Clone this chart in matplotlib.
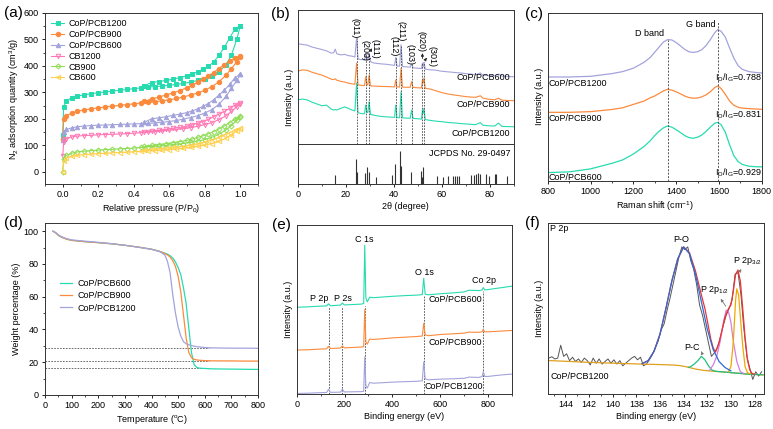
import numpy as np
import matplotlib
matplotlib.use('Agg')
import matplotlib.pyplot as plt
from matplotlib.ticker import MultipleLocator

plt.rcParams['font.family'] = ['Liberation Sans', 'DejaVu Sans']
plt.rcParams['mathtext.fontset'] = 'custom'
plt.rcParams['mathtext.rm'] = 'Liberation Sans'
plt.rcParams['mathtext.it'] = 'Liberation Sans:italic'
plt.rcParams['mathtext.default'] = 'regular'
plt.rcParams['font.size'] = 6.5
plt.rcParams['axes.linewidth'] = 0.7
plt.rcParams['axes.edgecolor'] = '#333333'
for a in ['xtick', 'ytick']:
    plt.rcParams[a + '.major.size'] = 2.5
    plt.rcParams[a + '.minor.size'] = 1.5
    plt.rcParams[a + '.major.width'] = 0.6
    plt.rcParams[a + '.minor.width'] = 0.5
    plt.rcParams[a + '.major.pad'] = 2
    plt.rcParams[a + '.labelsize'] = 6.5

TEAL = '#27dbb0'
ORANGE = '#fb8a3c'
LAV = '#a3a3dc'
PINK = '#ff78b4'
LGREEN = '#8fdd55'
YELLOW = '#ffd04d'

# ---------- (a) N2 isotherms ----------
p_ads = [0.0, 0.005, 0.02, 0.05, 0.08, 0.12, 0.16, 0.2, 0.24, 0.28, 0.32, 0.36, 0.4, 0.44, 0.48,
         0.52, 0.56, 0.6, 0.64, 0.68, 0.72, 0.76, 0.8, 0.84, 0.88, 0.92, 0.95, 0.98, 1.0]
p_des = [1.0, 0.97, 0.94, 0.91, 0.88, 0.85, 0.82, 0.79, 0.76, 0.73, 0.7, 0.66, 0.62, 0.58, 0.54, 0.5, 0.46]

ads_cop1200 = [140, 245, 268, 280, 286, 291, 295, 299, 302, 305, 308, 311, 314, 317, 320, 322, 324, 327,
               330, 334, 339, 345, 352, 362, 378, 405, 440, 500, 550]
des_cop1200 = [552, 540, 505, 470, 440, 415, 398, 387, 378, 370, 363, 356, 350, 345, 341, 337, 326]
ads_cop900 = [125, 198, 212, 222, 228, 234, 238, 242, 245, 248, 251, 254, 257, 260, 262, 265, 268, 272,
              277, 283, 290, 298, 308, 322, 340, 365, 390, 415, 435]
des_cop900 = [438, 430, 418, 405, 390, 375, 362, 350, 338, 328, 318, 307, 298, 290, 282, 275, 266]
ads_cop600 = [120, 150, 160, 166, 170, 173, 175, 176, 177, 178, 179, 180, 181, 182, 183, 185, 187, 190,
              194, 199, 205, 212, 222, 235, 255, 285, 315, 345, 368]
des_cop600 = [370, 355, 330, 308, 290, 272, 258, 247, 238, 230, 224, 218, 213, 208, 204, 200, 188]
ads_cb1200 = [60, 112, 125, 132, 135, 137, 138, 140, 141, 142, 143, 144, 146, 148, 150, 152, 154, 157,
              160, 163, 167, 172, 178, 186, 197, 212, 228, 245, 258]
des_cb1200 = [260, 252, 240, 228, 218, 208, 198, 190, 184, 178, 173, 168, 164, 160, 157, 154, 150]
ads_cb900 = [0, 50, 62, 70, 75, 78, 80, 82, 84, 85, 87, 88, 90, 92, 94, 96, 98, 101, 104, 107, 111, 116,
             122, 130, 142, 158, 175, 195, 208]
des_cb900 = [210, 200, 186, 173, 162, 152, 143, 136, 130, 124, 119, 114, 110, 106, 103, 100, 96]
ads_cb600 = [0, 40, 52, 58, 62, 65, 67, 69, 70, 72, 73, 74, 76, 77, 79, 80, 82, 84, 86, 89, 92, 96, 101,
             107, 115, 127, 140, 155, 163]
des_cb600 = [165, 158, 148, 138, 130, 122, 116, 110, 106, 102, 98, 95, 92, 89, 87, 85, 82]

iso_names = ['CoP/PCB1200', 'CoP/PCB900', 'CoP/PCB600', 'CB1200', 'CB900', 'CB600']

# ---------- (b) XRD ----------
two_theta = [0.5, 2, 4, 6, 8, 10, 12, 14, 15, 15.6, 16.3, 18, 19.5, 21, 22.5, 23.8, 24.5, 25.1, 26, 27,
             27.8, 28.3, 28.8, 29.2, 29.7, 30.3, 31.5, 33, 35, 37, 39, 40.3, 40.8, 41.3, 42.4, 43.0, 43.6,
             45, 46.8, 47.4, 48, 50, 51.5, 51.9, 52.2, 52.5, 53.1, 55, 57, 60, 63, 66, 68, 70, 72, 74, 76,
             77, 79, 82, 83.5, 85, 87, 90]
xrd_600 = [80.5, 80.2, 79.8, 78.7, 78, 77.3, 76.5, 75.2, 75.5, 77.5, 74.8, 74.2, 74.5, 73.8, 73.5, 73, 84,
           72, 71.5, 71.5, 71.3, 75, 71.5, 71.3, 75, 70.3, 69.6, 69.3, 69, 68.8, 68.4, 68.2, 72.8, 67.8,
           67.7, 80, 67.5, 67.4, 67.1, 69, 66.8, 66.5, 66.4, 69.5, 67.3, 70, 66, 65.6, 65.5, 64.8, 64.4,
           64, 63.8, 63.4, 63.2, 62.8, 63.8, 62.6, 62.3, 62.1, 63.2, 62, 61.9, 61.6]
xrd_900 = [65, 65.6, 65.3, 64.2, 63.4, 62.6, 61.5, 60.2, 60, 60.5, 59.6, 59, 58.6, 58, 57.6, 57.3, 69.5,
           57, 56.8, 56.6, 56.6, 61.7, 57, 57, 62.5, 56.4, 56.3, 56.2, 56.1, 56, 55.9, 55.8, 59.8, 55.8,
           55.7, 66.5, 55.7, 55.6, 55.6, 58.8, 55.5, 55.3, 55.2, 59.5, 58, 60.8, 55, 54.6, 53.8, 52.5,
           51.6, 51, 50.6, 50.2, 50, 49.8, 50.7, 49.4, 48.8, 48.4, 49.3, 48.2, 48, 47.9]
xrd_1200 = [48.5, 48.8, 48.3, 47, 46, 45, 45.3, 43, 42.5, 42.8, 42.6, 43.5, 44.3, 43.5, 42.6, 42, 58, 41,
            40.6, 40.4, 40.4, 45.4, 41, 41.2, 47.3, 40, 39.6, 39.2, 38.8, 38.6, 38.4, 38.3, 45.4, 38.2,
            38.1, 53, 38, 37.9, 37.8, 42.5, 37.7, 37.5, 37.3, 42.5, 40.5, 43.4, 37, 36.6, 36.2, 35.8,
            35.3, 35, 34.7, 34.5, 34.3, 34.1, 35.3, 33.8, 33.5, 33.3, 35, 33.1, 33, 32.9]
hkl = ['(011)', '(200)', '(111)', '(112)', '(211)', '(103)', '(020)', '(301)']
hkl_2theta = [24.5, 28.3, 29.7, 40.8, 43.0, 47.4, 51.9, 52.5]
hkl_top = [84, 75, 75, 72.8, 80, 69, 69.5, 70]
ref_2theta = [15.4, 24.1, 24.7, 28.1, 29.0, 29.6, 32.4, 39.2, 40.3, 42.5, 42.9, 47.0, 51.3, 51.7, 52.3,
              57.8, 60.3, 62.5, 64.7, 65.5, 66.4, 67.3, 72.0, 73.4, 74.3, 75.1, 75.9, 78.2, 79.6, 82.1,
              82.5, 87.2]
ref_int = [5.2, 14.2, 6.7, 6.5, 10, 6.7, 4.2, 5.2, 11.5, 19, 10.3, 6.7, 7.6, 4.2, 9.6, 4.6, 4.2, 4.8,
           4.6, 4.8, 4.6, 4.6, 5.2, 5.2, 5.6, 6.5, 5.6, 5.6, 4.6, 5.6, 5.6, 4.6]

# ---------- (c) Raman ----------
raman_x = [800, 900, 1000, 1100, 1150, 1200, 1250, 1280, 1300, 1320, 1340, 1360, 1380, 1400, 1420, 1440,
           1460, 1480, 1500, 1520, 1540, 1560, 1580, 1595, 1610, 1630, 1650, 1670, 1690, 1710, 1740, 1770,
           1800]
raman_top = [61.8, 61.8, 62.2, 63.8, 65, 67, 70.5, 73.5, 76.5, 79.5, 82.5, 84, 83.8, 82.3, 80.3, 78.2,
             76.8, 76.4, 76.8, 78, 80.5, 84, 88, 90, 89, 85.5, 79, 73, 68.5, 66.3, 65, 64.5, 64.2]
raman_mid = [40.8, 40.8, 41.2, 42.5, 43.5, 45.5, 47.5, 49.5, 50.5, 52, 53.5, 54.5, 54, 53, 51.8, 50.5,
             49.6, 49.2, 49.3, 50, 51.2, 53, 55.5, 56.5, 55, 51.5, 47.5, 45, 43.8, 43.3, 43, 42.8, 42.6]
raman_bot = [5, 5.4, 7.2, 10.5, 12.5, 16, 20.5, 24, 27, 29.5, 31.5, 32.7, 32, 30.5, 28.8, 27, 25.8, 25.4,
             26, 27.3, 29.5, 32, 34.3, 34.8, 33.5, 29, 21.5, 15, 11.5, 9.8, 8.8, 8.5, 8.4]
raman_names = ['CoP/PCB1200', 'CoP/PCB900', 'CoP/PCB600']
id_ig = ['0.788', '0.831', '0.929']

# ---------- (d) TGA ----------
temp = [30, 40, 50, 60, 80, 100, 150, 200, 250, 300, 350, 400, 430, 450, 460, 470, 480, 490, 500, 510,
        520, 530, 540, 550, 560, 570, 580, 600, 620, 650, 700, 750, 800]
tga_600 = [100, 99, 97.5, 96.5, 95.2, 94.4, 93.6, 93, 92.3, 91.4, 90.3, 89, 87.7, 86.6, 86, 85, 83.6,
           81.2, 77.8, 73.5, 65.5, 56, 41, 26, 18.5, 16.8, 16.4, 16.2, 16, 15.9, 15.8, 15.7, 15.6]
tga_900 = [100, 99, 97.5, 96.5, 95.2, 94.4, 93.6, 93, 92.3, 91.4, 90.3, 89, 87.7, 86.4, 85.5, 84.2, 82,
           78.5, 72.5, 63, 49, 35, 26, 22.8, 21.8, 21.4, 21.2, 21, 20.9, 20.8, 20.8, 20.7, 20.7]
tga_1200 = [100, 99.2, 97.8, 96.8, 95.5, 94.7, 93.9, 93.2, 92.4, 91.4, 90.2, 88.9, 87.6, 85.5, 81.5,
            74.5, 61, 50, 41.5, 36, 32.6, 31.3, 30.7, 30.2, 29.8, 29.5, 29.3, 29, 28.8, 28.7, 28.6, 28.6,
            28.5]
residue = [28.7, 21.0, 16.4]

# ---------- (e) XPS survey ----------
be_survey = [0, 50, 100, 125, 133, 141, 150, 183, 191, 199, 230, 270, 280, 284.5, 289, 295, 305, 320, 350,
             400, 450, 500, 525, 531, 537, 550, 600, 650, 700, 720, 760, 775, 780, 786, 800, 850, 900]
xps_600 = [51.3, 51.6, 52, 52.1, 53.4, 52.2, 52.3, 52.6, 53.8, 52.7, 52.9, 53.2, 53.5, 88, 57, 54.5, 57.3,
           57, 57.3, 57.8, 58.2, 58.5, 58.8, 68.5, 59, 58.7, 59.3, 59.8, 60.4, 61.4, 61.2, 61.5, 63, 61.6,
           61.8, 62.8, 63.8]
xps_900 = [26, 26.2, 26.6, 26.7, 28.2, 26.9, 27, 27.2, 28.4, 27.3, 27.5, 27.8, 28, 50, 31, 29.5, 32.5,
           32.3, 32.6, 33.2, 33.6, 34, 34.3, 41.8, 35, 34.5, 35.2, 35.6, 36, 36.6, 36.5, 36.8, 38.2, 36.8,
           36.8, 37.2, 37.6]
xps_1200 = [0.3, 0.5, 0.8, 0.9, 2.8, 1, 1, 1.1, 2.8, 1.2, 1.3, 1.4, 1.6, 22, 5, 3.5, 6.8, 6.4, 6.6, 7,
            7.3, 7.5, 7.8, 19, 9, 8.4, 8.8, 9, 9.3, 10, 9.8, 10.3, 13.2, 10.4, 10.4, 11.2, 11.8]
xps_lines = [133, 191, 284.5, 531, 780]
xps_line_top = [51.5, 51.5, 52, 58.5, 61]

# ---------- (f) P 2p ----------
be_raw = [145.4, 145.15, 144.9, 144.65, 144.4, 144.15, 143.9, 143.65, 143.4, 143.15, 142.9, 142.65,
          142.4, 142.15, 141.9, 141.65, 141.4, 141.15, 140.9, 140.65, 140.4, 140.15, 139.9, 139.65,
          139.4, 139.15, 138.9, 138.65, 138.4, 138.15, 137.9, 137.65, 137.4, 137.15, 136.9, 136.65,
          136.4, 136.15, 135.9, 135.65, 135.4, 135.15, 134.9, 134.65, 134.4, 134.15, 133.9, 133.65,
          133.4, 133.15, 132.9, 132.65, 132.4, 132.15, 131.9, 131.65, 131.4, 131.15, 130.9, 130.65,
          130.4, 130.15, 129.9, 129.65, 129.4, 129.15, 128.9, 128.65, 128.4, 128.15, 127.9, 127.65,
          127.4]
raw_int = [21, 21.8, 20.5, 21, 28.5, 22, 23.5, 19.5, 21.5, 19, 20.5, 18.5, 21, 19.5, 17, 21, 18, 20.5,
           17.5, 19, 20.5, 18, 20, 17.5, 19.5, 16.5, 18, 19.5, 21, 22, 20, 21.5, 16.5, 17.5, 20, 23, 27,
           31, 37.5, 41, 49, 56, 64, 72, 80, 86, 84.5, 86, 78, 73, 64, 52, 46, 38, 30, 22, 24, 27, 33, 40,
           46, 50, 55, 70, 71, 58, 38, 22, 15, 8.5, 13, 10.5, 13]
be_env = [137.5, 137, 136.5, 136, 135.5, 135, 134.5, 134, 133.5, 133, 132.5, 132.2, 132, 131.7, 131.5,
          131.3, 131, 130.5, 130.2, 130, 129.8, 129.6, 129.4, 129.2, 129, 128.8, 128.6, 128.4, 128.2, 128]
env_int = [17.8, 19.5, 25, 35, 50, 66, 79, 86, 82.5, 72, 58, 50, 43, 32, 27, 24.5, 30, 45, 50, 52, 60,
           70, 72.5, 66, 50, 33, 20, 14, 12, 11.5]
be_po = [137.5, 137, 136.5, 136, 135.5, 135, 134.5, 134, 133.5, 133, 132.5, 132, 131.5, 131, 130.5, 130]
po_int = [17.8, 19.5, 25, 35, 50, 66, 79, 86, 82, 70, 54, 38, 26, 19, 15.5, 13.5]
be_pc = [133.6, 133.4, 133.1, 132.8, 132.5, 132.2, 131.9, 131.6, 131.3, 130.5, 129.5, 128.5, 127.3]
pc_int = [15.6, 16, 17.5, 19.5, 22, 20, 16.5, 14, 13.3, 12.8, 12.2, 11.6, 11.2]
be_p12 = [131.8, 131.5, 131.2, 130.9, 130.6, 130.4, 130.2, 130, 129.8, 129.5, 129.2, 128.9]
p12_int = [14, 17, 22, 31, 43, 49, 48, 42, 31, 19, 13, 12]
be_p32 = [130.2, 130, 129.8, 129.6, 129.5, 129.35, 129.2, 129, 128.8, 128.6, 128.4]
p32_int = [13, 16, 30, 55, 61.5, 58, 45, 28, 16, 12.5, 11.8]
be_bg = [145.5, 142, 139, 136, 135, 134.3, 133.7, 133, 132.3, 131.5, 130.5, 129.5, 128.5, 127.2]
bg_int = [19.6, 18.5, 17.8, 17.2, 17, 16.6, 15.8, 14.6, 13.8, 13.3, 12.8, 12.2, 11.6, 11.2]

W, H = 773, 429
fig = plt.figure(figsize=(W / 100, H / 100), dpi=100)


def add_ax(l, t, r, b):
    return fig.add_axes([l / W, 1 - b / H, (r - l) / W, (b - t) / H])


def no_y(ax):
    ax.set_yticks([])
    ax.set_ylabel('Intensity (a.u.)', labelpad=3)


ax_a = add_ax(45, 13, 258, 184)
ax_b = add_ax(297.7, 10, 514, 184)
ax_c = add_ax(547.7, 12.7, 761.7, 181)
ax_d = add_ax(45, 223, 258, 395)
ax_e = add_ax(296.7, 225, 512, 394)
ax_f = add_ax(547.7, 223, 764, 394)

# (a)
iso_ads = [ads_cop1200, ads_cop900, ads_cop600, ads_cb1200, ads_cb900, ads_cb600]
iso_des = [des_cop1200, des_cop900, des_cop600, des_cb1200, des_cb900, des_cb600]
iso_colors = [TEAL, ORANGE, LAV, PINK, LGREEN, YELLOW]
iso_markers = ['s', 'o', '^', 'v', 'D', '<']
for i in range(6):
    x = p_ads + p_des
    y = iso_ads[i] + iso_des[i]
    filled = i < 3
    ax_a.plot(x, y, color=iso_colors[i], lw=0.8, marker=iso_markers[i],
              ms=3.2 if iso_markers[i] != 'D' else 2.6, mew=0.7,
              mfc=iso_colors[i] if filled else 'none', mec=iso_colors[i], label=iso_names[i])
ax_a.set_xlim(-0.1, 1.1)
ax_a.set_ylim(-46, 600)
ax_a.xaxis.set_major_locator(MultipleLocator(0.2))
ax_a.xaxis.set_minor_locator(MultipleLocator(0.1))
ax_a.yaxis.set_major_locator(MultipleLocator(100))
ax_a.yaxis.set_minor_locator(MultipleLocator(50))
ax_a.xaxis.set_major_formatter(plt.FuncFormatter(lambda v, p: '%.1f' % v))
ax_a.set_xlabel('Relative pressure (P/P$_0$)', labelpad=2)
ax_a.set_ylabel('N$_2$ adsorption quantity (cm$^3$/g)', labelpad=2)
ax_a.legend(loc='upper left', bbox_to_anchor=(0.0, 1.0), frameon=False, fontsize=6.5,
            handlelength=1.4, labelspacing=0.2, handletextpad=0.5, borderaxespad=0.3)

# (b)
ax_b.plot(two_theta, xrd_600, color=LAV, lw=0.8)
ax_b.plot(two_theta, xrd_900, color=ORANGE, lw=0.8)
ax_b.plot(two_theta, xrd_1200, color=TEAL, lw=0.8)
for xv, top in zip(hkl_2theta, hkl_top):
    ax_b.plot([xv, xv], [23, top], color='#444444', lw=0.6, ls=(0, (2, 1.5)))
ax_b.axhline(23, color='#333333', lw=0.7)
ax_b.vlines(ref_2theta, 0, ref_int, color='#333333', lw=0.8)
ax_b.text(88.5, 17.5, 'JCPDS No. 29-0497', ha='right', va='center')
ax_b.text(88.5, 61, 'CoP/PCB600', ha='right', va='center')
ax_b.text(88.5, 45.5, 'CoP/PCB900', ha='right', va='center')
ax_b.text(88.5, 29, 'CoP/PCB1200', ha='right', va='center')
lab_xy = [(24.0, 89.5), (27.9, 76.5), (32.0, 77.5), (40.0, 79.4), (42.8, 88), (46.6, 74.2),
          (51.2, 81.8), (56.0, 73.2)]
for t, (lx, ly) in zip(hkl, lab_xy):
    ax_b.text(lx, ly, t, rotation=270, ha='center', va='center', fontsize=6.5)
arr = dict(arrowstyle='-|>', color='#222222', lw=0.6, mutation_scale=4)
ax_b.annotate('', xy=(30.9, 78.0), xytext=(29.9, 75.5), arrowprops=arr)
ax_b.annotate('', xy=(51.9, 76.8), xytext=(51.9, 70.5), arrowprops=arr)
ax_b.annotate('', xy=(54.4, 73.8), xytext=(52.7, 70.6), arrowprops=arr)
ax_b.set_xlim(0, 90)
ax_b.set_ylim(0, 100)
ax_b.xaxis.set_major_locator(MultipleLocator(20))
ax_b.xaxis.set_minor_locator(MultipleLocator(10))
ax_b.set_xlabel('2θ (degree)', labelpad=2)
no_y(ax_b)

# (c)
ax_c.plot(raman_x, raman_top, color=LAV, lw=0.9)
ax_c.plot(raman_x, raman_mid, color=ORANGE, lw=0.9)
ax_c.plot(raman_x, raman_bot, color=TEAL, lw=0.9)
ax_c.plot([1360, 1360], [0, 84], color='#555555', lw=0.7, ls=(0, (2, 1.5)))
ax_c.plot([1595, 1595], [0, 94.5], color='#555555', lw=0.7, ls=(0, (2, 1.5)))
ax_c.text(1275, 87.5, 'D band', ha='center', va='center')
ax_c.text(1515, 93, 'G band', ha='center', va='center')
for name, ratio, yy in zip(raman_names, id_ig, [58, 37.2, 2.2]):
    ax_c.text(805, yy, name, ha='left', va='center')
for ratio, yy in zip(id_ig, [61.6, 39.2, 4.9]):
    ax_c.text(1580, yy, 'I$_D$/I$_G$=' + ratio, ha='left', va='center')
ax_c.set_xlim(800, 1800)
ax_c.set_ylim(0, 100)
ax_c.xaxis.set_major_locator(MultipleLocator(200))
ax_c.xaxis.set_minor_locator(MultipleLocator(100))
ax_c.set_xlabel('Raman shift (cm$^{-1}$)', labelpad=2)
no_y(ax_c)

# (d)
for yv in residue:
    ax_d.plot([0, 615], [yv, yv], color='#555555', lw=0.6, ls=(0, (2, 1.5)))
ax_d.plot(temp, tga_600, color=TEAL, lw=0.9, label='CoP/PCB600')
ax_d.plot(temp, tga_900, color=ORANGE, lw=0.9, label='CoP/PCB900')
ax_d.plot(temp, tga_1200, color=LAV, lw=0.9, label='CoP/PCB1200')
ax_d.set_xlim(0, 800)
ax_d.set_ylim(0, 105)
ax_d.xaxis.set_major_locator(MultipleLocator(100))
ax_d.xaxis.set_minor_locator(MultipleLocator(50))
ax_d.yaxis.set_major_locator(MultipleLocator(20))
ax_d.yaxis.set_minor_locator(MultipleLocator(10))
ax_d.set_xlabel('Temperature ($^o$C)', labelpad=2)
ax_d.set_ylabel('Weight percentage (%)', labelpad=2)
ax_d.legend(loc='upper left', bbox_to_anchor=(0.03, 0.72), frameon=False, fontsize=6.5,
            handlelength=1.4, labelspacing=0.35, handletextpad=0.6)

# (e)
for xv, top in zip(xps_lines, xps_line_top):
    ax_e.plot([xv, xv], [0, top], color='#444444', lw=0.6, ls=(0, (2, 1.5)))
ax_e.plot(be_survey, xps_600, color=TEAL, lw=0.8)
ax_e.plot(be_survey, xps_900, color=ORANGE, lw=0.8)
ax_e.plot(be_survey, xps_1200, color=LAV, lw=0.8)
ax_e.text(282, 91.5, 'C 1s', ha='center', va='center')
ax_e.text(532, 71.8, 'O 1s', ha='center', va='center')
ax_e.text(784, 67, 'Co 2p', ha='center', va='center')
ax_e.text(93, 56.6, 'P 2p', ha='center', va='center')
ax_e.text(195, 56.6, 'P 2s', ha='center', va='center')
ax_e.text(662, 56, 'CoP/PCB600', ha='center', va='center')
ax_e.text(662, 30.4, 'CoP/PCB900', ha='center', va='center')
ax_e.text(658, 4.3, 'CoP/PCB1200', ha='center', va='center')
ax_e.set_xlim(0, 900)
ax_e.set_ylim(0, 100)
ax_e.xaxis.set_major_locator(MultipleLocator(200))
ax_e.xaxis.set_minor_locator(MultipleLocator(100))
ax_e.set_xlabel('Binding energy (eV)', labelpad=2)
no_y(ax_e)

# (f)
ax_f.plot(be_raw, raw_int, color='#555555', lw=0.7)
ax_f.plot(be_bg, bg_int, color='#e0a020', lw=0.9)
ax_f.plot(be_pc, pc_int, color='#20c080', lw=0.9)
ax_f.plot(be_p12, p12_int, color='#d67ee0', lw=0.9)
ax_f.plot(be_p32, p32_int, color='#f0a800', lw=0.9)
ax_f.plot(be_env, env_int, color='#ee3333', lw=0.9)
ax_f.plot(be_po, po_int, color='#2a6bd8', lw=0.9)
ax_f.text(145.3, 96.5, 'P 2p', ha='left', va='center')
ax_f.text(134.2, 90.5, 'P-O', ha='center', va='center')
ax_f.text(145.3, 10.5, 'CoP/PCB1200', ha='left', va='center')
ax_f.text(133.3, 27, 'P-C', ha='center', va='center')
ax_f.text(131.4, 61, 'P 2p$_{1/2}$', ha='center', va='center')
ax_f.text(128.6, 78, 'P 2p$_{3/2}$', ha='center', va='center')
arr_g = dict(arrowstyle='-|>', color='#777777', lw=0.6, mutation_scale=4)
ax_f.annotate('', xy=(132.6, 26.5), xytext=(132.4, 23), arrowprops=arr_g)
ax_f.annotate('', xy=(131.0, 57), xytext=(130.3, 50), arrowprops=arr_g)
ax_f.annotate('', xy=(129.0, 74.5), xytext=(129.3, 71), arrowprops=arr_g)
ax_f.set_xlim(145.5, 127.2)
ax_f.set_ylim(0, 100)
ax_f.xaxis.set_major_locator(MultipleLocator(2))
ax_f.xaxis.set_minor_locator(MultipleLocator(1))
ax_f.set_xlabel('Binding energy (eV)', labelpad=2)
no_y(ax_f)

letters = ['(a)', '(b)', '(c)', '(d)', '(e)', '(f)']
letter_xy = [(4, 13), (271, 14), (525, 14), (4, 223), (272, 225), (525, 223)]
for s, (lx, ly) in zip(letters, letter_xy):
    fig.text(lx / W, 1 - ly / H, s, fontsize=11, ha='left', va='center')

fig.savefig('out.png', dpi=100)
